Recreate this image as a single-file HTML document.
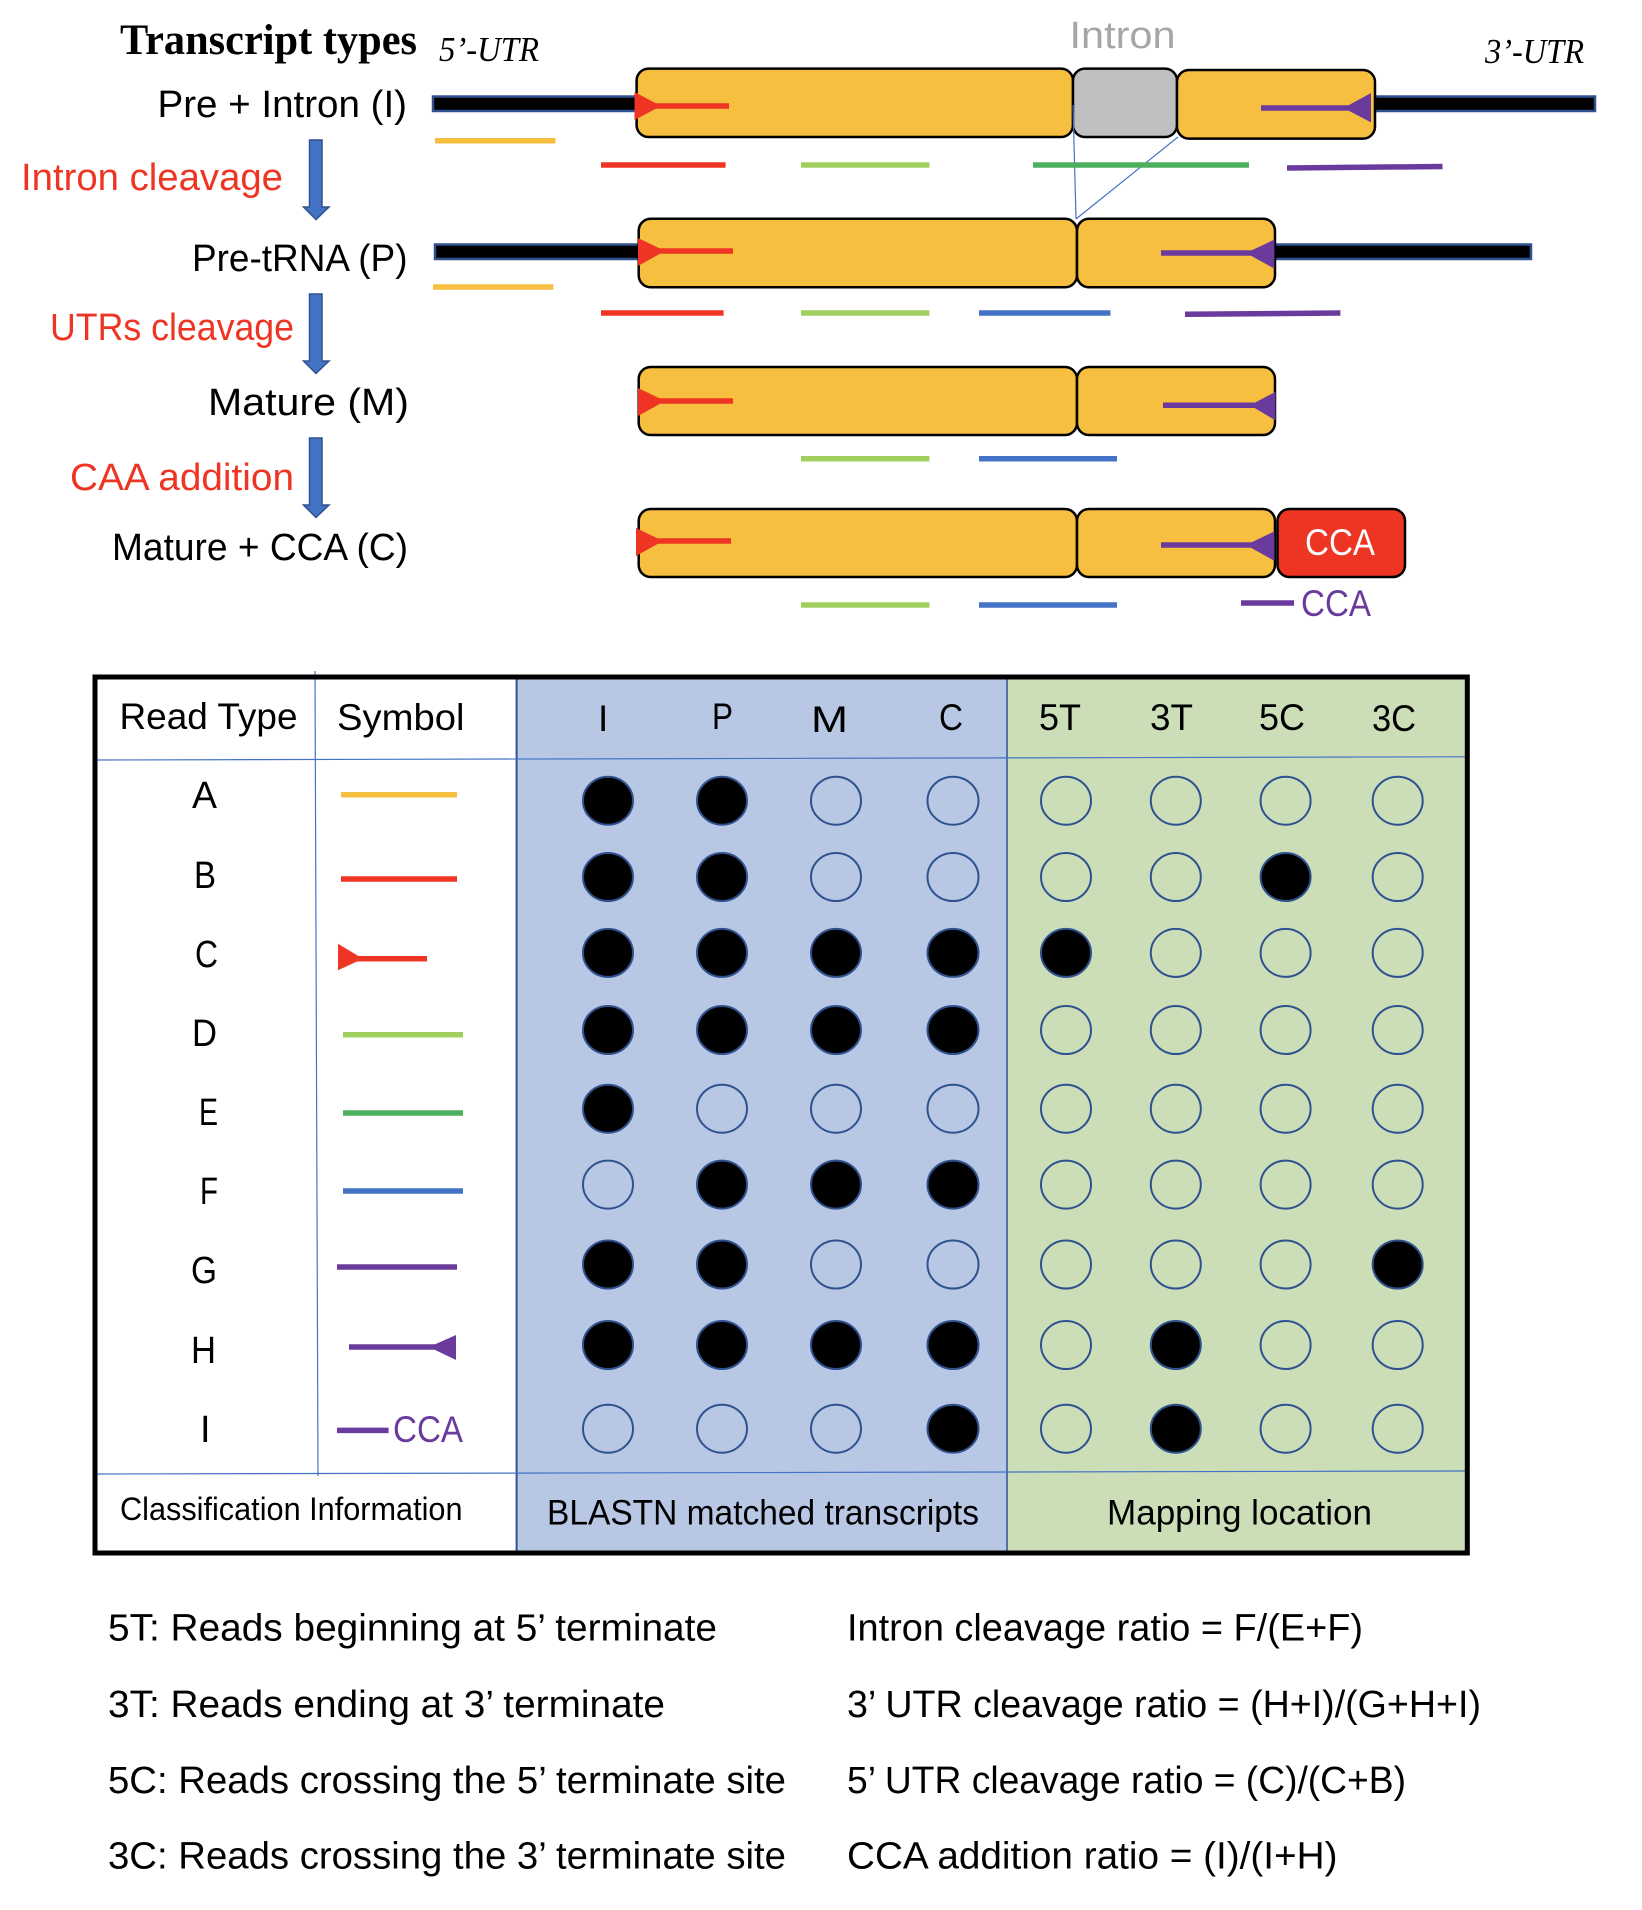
<!DOCTYPE html>
<html>
<head>
<meta charset="utf-8">
<style>
html,body{margin:0;padding:0;background:#fff}
svg{display:block}
text{font-family:"Liberation Sans",sans-serif;font-size:38px;fill:#000}
.serif{font-family:"Liberation Serif",serif}
.red{fill:#EE3524}
.pur{fill:#6A3A9C}
.box{fill:#F6BF40;stroke:#000;stroke-width:2.5}
.bar{fill:#000;stroke:#2F528F;stroke-width:2.5}
.arrow{fill:#4472C4;stroke:#2F528F;stroke-width:1.5}
.on{fill:#000;stroke:#2F528F;stroke-width:2}
.off{fill:none;stroke:#2F528F;stroke-width:2}
.y{stroke:#F6BF40;stroke-width:5.5}
.r{stroke:#EE3524;stroke-width:5.5}
.lg{stroke:#A0CF60;stroke-width:5.5}
.dg{stroke:#4CAF5E;stroke-width:5.5}
.b{stroke:#4472C4;stroke-width:5.5}
.p{stroke:#6A3A9C;stroke-width:5.5}
.thin{stroke:#4472C4;stroke-width:1.2;fill:none}
</style>
</head>
<body>
<svg width="1642" height="1910" viewBox="0 0 1642 1910" xmlns="http://www.w3.org/2000/svg">
<rect width="1642" height="1910" fill="#fff"/>

<!-- Top labels -->
<text class="serif" x="120" y="54" font-weight="bold" style="font-size:43px" textLength="297" lengthAdjust="spacingAndGlyphs">Transcript types</text>
<text class="serif" x="439" y="61" font-style="italic" style="font-size:35px" textLength="100" lengthAdjust="spacingAndGlyphs">5’-UTR</text>
<text class="serif" x="1485" y="63" font-style="italic" style="font-size:35px" textLength="99" lengthAdjust="spacingAndGlyphs">3’-UTR</text>
<text x="1069.5" y="48" style="font-size:38px;fill:#A6A6A6" textLength="106" lengthAdjust="spacingAndGlyphs">Intron</text>

<text x="157.5" y="117" textLength="249.5" lengthAdjust="spacingAndGlyphs">Pre + Intron (I)</text>
<text class="red" x="21" y="190" textLength="262" lengthAdjust="spacingAndGlyphs">Intron cleavage</text>
<text x="192" y="271" textLength="215.5" lengthAdjust="spacingAndGlyphs">Pre-tRNA (P)</text>
<text class="red" x="50" y="340" textLength="244" lengthAdjust="spacingAndGlyphs">UTRs cleavage</text>
<text x="208" y="415" textLength="201" lengthAdjust="spacingAndGlyphs">Mature (M)</text>
<text class="red" x="70" y="490" textLength="224" lengthAdjust="spacingAndGlyphs">CAA addition</text>
<text x="112" y="560" textLength="296" lengthAdjust="spacingAndGlyphs">Mature + CCA (C)</text>

<!-- Block arrows -->
<polygon class="arrow" points="309.5,140 322,140 322,207 329,207 316,219.6 303.5,207 309.5,207"/>
<polygon class="arrow" points="309.5,294 322,294 322,361 329,361 316,373.5 303.5,361 309.5,361"/>
<polygon class="arrow" points="309.5,438 322,438 322,505 329,505 316,517.5 303.5,505 309.5,505"/>

<!-- Black UTR bars -->
<rect class="bar" x="433" y="96.5" width="205" height="14.5"/>
<rect class="bar" x="1374" y="96.5" width="221" height="14.5"/>
<rect class="bar" x="435" y="244.5" width="205" height="14.5"/>
<rect class="bar" x="1274" y="244.5" width="257" height="14.5"/>

<!-- Row I boxes -->
<rect class="box" x="636.6" y="68.6" width="436.4" height="68.4" rx="12" ry="12"/>
<rect class="box" style="fill:#BFBFBF" x="1073" y="68.6" width="104" height="68.4" rx="12" ry="12"/>
<rect class="box" x="1177" y="70" width="198" height="68.6" rx="12" ry="12"/>
<!-- Row P boxes -->
<rect class="box" x="638.7" y="218.8" width="438.3" height="68.5" rx="12" ry="12"/>
<rect class="box" x="1077" y="218.8" width="198" height="68.5" rx="12" ry="12"/>
<!-- Row M boxes -->
<rect class="box" x="638.7" y="367" width="438.3" height="68" rx="12" ry="12"/>
<rect class="box" x="1077" y="367" width="198" height="68" rx="12" ry="12"/>
<!-- Row C boxes -->
<rect class="box" x="638.7" y="509" width="438.3" height="68" rx="12" ry="12"/>
<rect class="box" x="1077" y="509" width="198" height="68" rx="12" ry="12"/>
<rect class="box" style="fill:#EE3524" x="1277.5" y="509" width="127.5" height="68" rx="12" ry="12"/>
<text x="1305" y="555" style="font-size:37px;fill:#fff" textLength="70" lengthAdjust="spacingAndGlyphs">CCA</text>

<!-- Intron connector lines -->
<line class="thin" x1="1073" y1="105" x2="1076" y2="219"/>
<line class="thin" x1="1178" y1="137" x2="1076" y2="219"/>

<!-- Red head reads -->
<polygon fill="#EE3524" points="634.5,92 661,106 634.5,120"/><line class="r" x1="650" y1="106" x2="729" y2="106"/>
<polygon fill="#EE3524" points="638,238 665,251 638,266"/><line class="r" x1="650" y1="251" x2="733" y2="251"/>
<polygon fill="#EE3524" points="638,388 665,401 638,416"/><line class="r" x1="650" y1="401" x2="733" y2="401"/>
<polygon fill="#EE3524" points="636,528 663,541 636,556"/><line class="r" x1="650" y1="541" x2="731" y2="541"/>

<!-- Purple head reads -->
<polygon fill="#6A3A9C" points="1371,93 1343.5,108 1371,122.4"/><line class="p" x1="1261" y1="108" x2="1355" y2="108"/>
<polygon fill="#6A3A9C" points="1274.4,239.6 1246,253 1274.4,268.6"/><line class="p" x1="1161" y1="253" x2="1260" y2="253"/>
<polygon fill="#6A3A9C" points="1275.5,391.8 1250,405.3 1275.5,420.4"/><line class="p" x1="1163" y1="405.3" x2="1260" y2="405.3"/>
<polygon fill="#6A3A9C" points="1274.4,531.4 1246,545 1274.4,560.8"/><line class="p" x1="1161" y1="545" x2="1260" y2="545"/>

<!-- Read segments -->
<line class="y" x1="435" y1="140.8" x2="555.5" y2="140.8"/>
<line class="r" x1="601" y1="165" x2="725.6" y2="165"/>
<line class="lg" x1="801" y1="165" x2="929.4" y2="165"/>
<line class="dg" x1="1033" y1="165" x2="1249" y2="165"/>
<line class="p" x1="1287" y1="168" x2="1442.5" y2="166.5"/>

<line class="y" x1="433" y1="287" x2="553.4" y2="287"/>
<line class="r" x1="601" y1="313" x2="723.6" y2="313"/>
<line class="lg" x1="801" y1="313" x2="929.4" y2="313"/>
<line class="b" x1="979" y1="313" x2="1110.5" y2="313"/>
<line class="p" x1="1185" y1="314.3" x2="1340.4" y2="313"/>

<line class="lg" x1="801" y1="458.8" x2="929.4" y2="458.8"/>
<line class="b" x1="979" y1="458.8" x2="1117" y2="458.8"/>

<line class="lg" x1="801" y1="605" x2="929.4" y2="605"/>
<line class="b" x1="979" y1="605" x2="1117" y2="605"/>
<line class="p" x1="1241" y1="603" x2="1294" y2="603"/>
<text class="pur" x="1301" y="616" style="font-size:37px" textLength="70" lengthAdjust="spacingAndGlyphs">CCA</text>

<!-- Table -->
<rect x="516.6" y="677" width="490.4" height="876" fill="#B7C7E4"/>
<rect x="1007" y="677" width="460" height="876" fill="#CBDEB8"/>
<line x1="516.6" y1="679" x2="516.6" y2="1551" stroke="#2F528F" stroke-width="2"/>
<line x1="1007" y1="679" x2="1007" y2="1551" stroke="#2F528F" stroke-width="1.5"/>
<line class="thin" x1="315" y1="671" x2="318" y2="1476"/>
<line class="thin" x1="97" y1="760" x2="1465" y2="756.8"/>
<line class="thin" x1="97" y1="1474" x2="1465" y2="1471"/>
<rect x="95" y="677" width="1372.3" height="876" fill="none" stroke="#000" stroke-width="5"/>

<text x="119.5" y="729" style="font-size:37px" textLength="178" lengthAdjust="spacingAndGlyphs">Read Type</text>
<text x="337" y="730" style="font-size:37px" textLength="127.5" lengthAdjust="spacingAndGlyphs">Symbol</text>
<text x="598" y="731" style="font-size:37px">I</text>
<text x="712" y="729" style="font-size:37px" textLength="21" lengthAdjust="spacingAndGlyphs">P</text>
<text x="811" y="732" style="font-size:37px" textLength="37" lengthAdjust="spacingAndGlyphs">M</text>
<text x="939" y="730" style="font-size:37px" textLength="24" lengthAdjust="spacingAndGlyphs">C</text>
<text x="1039" y="730" style="font-size:37px" textLength="42" lengthAdjust="spacingAndGlyphs">5T</text>
<text x="1150" y="730" style="font-size:37px" textLength="43" lengthAdjust="spacingAndGlyphs">3T</text>
<text x="1259" y="730" style="font-size:37px" textLength="46" lengthAdjust="spacingAndGlyphs">5C</text>
<text x="1372" y="731" style="font-size:37px" textLength="44" lengthAdjust="spacingAndGlyphs">3C</text>

<!-- Row letters -->
<text x="192" y="808" textLength="25" lengthAdjust="spacingAndGlyphs">A</text>
<text x="194" y="888" textLength="22" lengthAdjust="spacingAndGlyphs">B</text>
<text x="195" y="967" textLength="23" lengthAdjust="spacingAndGlyphs">C</text>
<text x="192" y="1046" textLength="25" lengthAdjust="spacingAndGlyphs">D</text>
<text x="199" y="1125" textLength="19" lengthAdjust="spacingAndGlyphs">E</text>
<text x="200" y="1204" textLength="18" lengthAdjust="spacingAndGlyphs">F</text>
<text x="191" y="1283" textLength="26" lengthAdjust="spacingAndGlyphs">G</text>
<text x="191" y="1363" textLength="25" lengthAdjust="spacingAndGlyphs">H</text>
<text x="200" y="1442">I</text>

<!-- Symbols -->
<line class="y" x1="341" y1="794.7" x2="457" y2="794.7"/>
<line class="r" x1="341" y1="879" x2="457" y2="879"/>
<polygon fill="#EE3524" points="338,943.8 363,958.8 338,970.3"/><line class="r" x1="350" y1="958.8" x2="427" y2="958.8"/>
<line class="lg" x1="343" y1="1034.7" x2="463" y2="1034.7"/>
<line class="dg" x1="343" y1="1113" x2="463" y2="1113"/>
<line class="b" x1="343" y1="1191" x2="463" y2="1191"/>
<line class="p" x1="337" y1="1267" x2="457" y2="1267"/>
<polygon fill="#6A3A9C" points="456,1335 429,1347 456,1360"/><line class="p" x1="349" y1="1347" x2="440" y2="1347"/>
<line class="p" x1="337" y1="1430.4" x2="388.6" y2="1430.4"/>
<text class="pur" x="393" y="1442" style="font-size:37px" textLength="70" lengthAdjust="spacingAndGlyphs">CCA</text>

<!-- Circles: A -->
<ellipse class="on" cx="608" cy="800.7" rx="25" ry="24"/><ellipse class="on" cx="722" cy="800.7" rx="25" ry="24"/><ellipse class="off" cx="836" cy="800.7" rx="25" ry="24"/><ellipse class="off" cx="953" cy="800.7" rx="25.5" ry="24"/><ellipse class="off" cx="1066" cy="800.7" rx="25" ry="24"/><ellipse class="off" cx="1175.8" cy="800.7" rx="25" ry="24"/><ellipse class="off" cx="1285.6" cy="800.7" rx="25" ry="24"/><ellipse class="off" cx="1397.7" cy="800.7" rx="25" ry="24"/>
<!-- B -->
<ellipse class="on" cx="608" cy="877" rx="25" ry="24"/><ellipse class="on" cx="722" cy="877" rx="25" ry="24"/><ellipse class="off" cx="836" cy="877" rx="25" ry="24"/><ellipse class="off" cx="953" cy="877" rx="25.5" ry="24"/><ellipse class="off" cx="1066" cy="877" rx="25" ry="24"/><ellipse class="off" cx="1175.8" cy="877" rx="25" ry="24"/><ellipse class="on" cx="1285.6" cy="877" rx="25" ry="24"/><ellipse class="off" cx="1397.7" cy="877" rx="25" ry="24"/>
<!-- C -->
<ellipse class="on" cx="608" cy="952.9" rx="25" ry="24"/><ellipse class="on" cx="722" cy="952.9" rx="25" ry="24"/><ellipse class="on" cx="836" cy="952.9" rx="25" ry="24"/><ellipse class="on" cx="953" cy="952.9" rx="25.5" ry="24"/><ellipse class="on" cx="1066" cy="952.9" rx="25" ry="24"/><ellipse class="off" cx="1175.8" cy="952.9" rx="25" ry="24"/><ellipse class="off" cx="1285.6" cy="952.9" rx="25" ry="24"/><ellipse class="off" cx="1397.7" cy="952.9" rx="25" ry="24"/>
<!-- D -->
<ellipse class="on" cx="608" cy="1030" rx="25" ry="24"/><ellipse class="on" cx="722" cy="1030" rx="25" ry="24"/><ellipse class="on" cx="836" cy="1030" rx="25" ry="24"/><ellipse class="on" cx="953" cy="1030" rx="25.5" ry="24"/><ellipse class="off" cx="1066" cy="1030" rx="25" ry="24"/><ellipse class="off" cx="1175.8" cy="1030" rx="25" ry="24"/><ellipse class="off" cx="1285.6" cy="1030" rx="25" ry="24"/><ellipse class="off" cx="1397.7" cy="1030" rx="25" ry="24"/>
<!-- E -->
<ellipse class="on" cx="608" cy="1108.7" rx="25" ry="24"/><ellipse class="off" cx="722" cy="1108.7" rx="25" ry="24"/><ellipse class="off" cx="836" cy="1108.7" rx="25" ry="24"/><ellipse class="off" cx="953" cy="1108.7" rx="25.5" ry="24"/><ellipse class="off" cx="1066" cy="1108.7" rx="25" ry="24"/><ellipse class="off" cx="1175.8" cy="1108.7" rx="25" ry="24"/><ellipse class="off" cx="1285.6" cy="1108.7" rx="25" ry="24"/><ellipse class="off" cx="1397.7" cy="1108.7" rx="25" ry="24"/>
<!-- F -->
<ellipse class="off" cx="608" cy="1184.6" rx="25" ry="24"/><ellipse class="on" cx="722" cy="1184.6" rx="25" ry="24"/><ellipse class="on" cx="836" cy="1184.6" rx="25" ry="24"/><ellipse class="on" cx="953" cy="1184.6" rx="25.5" ry="24"/><ellipse class="off" cx="1066" cy="1184.6" rx="25" ry="24"/><ellipse class="off" cx="1175.8" cy="1184.6" rx="25" ry="24"/><ellipse class="off" cx="1285.6" cy="1184.6" rx="25" ry="24"/><ellipse class="off" cx="1397.7" cy="1184.6" rx="25" ry="24"/>
<!-- G -->
<ellipse class="on" cx="608" cy="1264.5" rx="25" ry="24"/><ellipse class="on" cx="722" cy="1264.5" rx="25" ry="24"/><ellipse class="off" cx="836" cy="1264.5" rx="25" ry="24"/><ellipse class="off" cx="953" cy="1264.5" rx="25.5" ry="24"/><ellipse class="off" cx="1066" cy="1264.5" rx="25" ry="24"/><ellipse class="off" cx="1175.8" cy="1264.5" rx="25" ry="24"/><ellipse class="off" cx="1285.6" cy="1264.5" rx="25" ry="24"/><ellipse class="on" cx="1397.7" cy="1264.5" rx="25" ry="24"/>
<!-- H -->
<ellipse class="on" cx="608" cy="1345" rx="25" ry="24"/><ellipse class="on" cx="722" cy="1345" rx="25" ry="24"/><ellipse class="on" cx="836" cy="1345" rx="25" ry="24"/><ellipse class="on" cx="953" cy="1345" rx="25.5" ry="24"/><ellipse class="off" cx="1066" cy="1345" rx="25" ry="24"/><ellipse class="on" cx="1175.8" cy="1345" rx="25" ry="24"/><ellipse class="off" cx="1285.6" cy="1345" rx="25" ry="24"/><ellipse class="off" cx="1397.7" cy="1345" rx="25" ry="24"/>
<!-- I -->
<ellipse class="off" cx="608" cy="1428.7" rx="25" ry="24"/><ellipse class="off" cx="722" cy="1428.7" rx="25" ry="24"/><ellipse class="off" cx="836" cy="1428.7" rx="25" ry="24"/><ellipse class="on" cx="953" cy="1428.7" rx="25.5" ry="24"/><ellipse class="off" cx="1066" cy="1428.7" rx="25" ry="24"/><ellipse class="on" cx="1175.8" cy="1428.7" rx="25" ry="24"/><ellipse class="off" cx="1285.6" cy="1428.7" rx="25" ry="24"/><ellipse class="off" cx="1397.7" cy="1428.7" rx="25" ry="24"/>

<!-- Table footer -->
<text x="120" y="1520" style="font-size:32px" textLength="342.5" lengthAdjust="spacingAndGlyphs">Classification Information</text>
<text x="547" y="1524.5" style="font-size:35px" textLength="432" lengthAdjust="spacingAndGlyphs">BLASTN matched transcripts</text>
<text x="1107" y="1524.5" style="font-size:35px" textLength="265" lengthAdjust="spacingAndGlyphs">Mapping location</text>

<!-- Legend -->
<text x="108" y="1640.5" textLength="609" lengthAdjust="spacingAndGlyphs">5T: Reads beginning at 5’ terminate</text>
<text x="108" y="1717" textLength="557" lengthAdjust="spacingAndGlyphs">3T: Reads ending at 3’ terminate</text>
<text x="108" y="1793" textLength="678" lengthAdjust="spacingAndGlyphs">5C: Reads crossing the 5’ terminate site</text>
<text x="108" y="1868.5" textLength="678" lengthAdjust="spacingAndGlyphs">3C: Reads crossing the 3’ terminate site</text>

<text x="847" y="1640.5" textLength="516" lengthAdjust="spacingAndGlyphs">Intron cleavage ratio = F/(E+F)</text>
<text x="847" y="1717" textLength="634" lengthAdjust="spacingAndGlyphs">3’ UTR cleavage ratio = (H+I)/(G+H+I)</text>
<text x="847" y="1793" textLength="559" lengthAdjust="spacingAndGlyphs">5’ UTR cleavage ratio = (C)/(C+B)</text>
<text x="847" y="1868.5" textLength="490.5" lengthAdjust="spacingAndGlyphs">CCA addition ratio = (I)/(I+H)</text>
</svg>
</body>
</html>
